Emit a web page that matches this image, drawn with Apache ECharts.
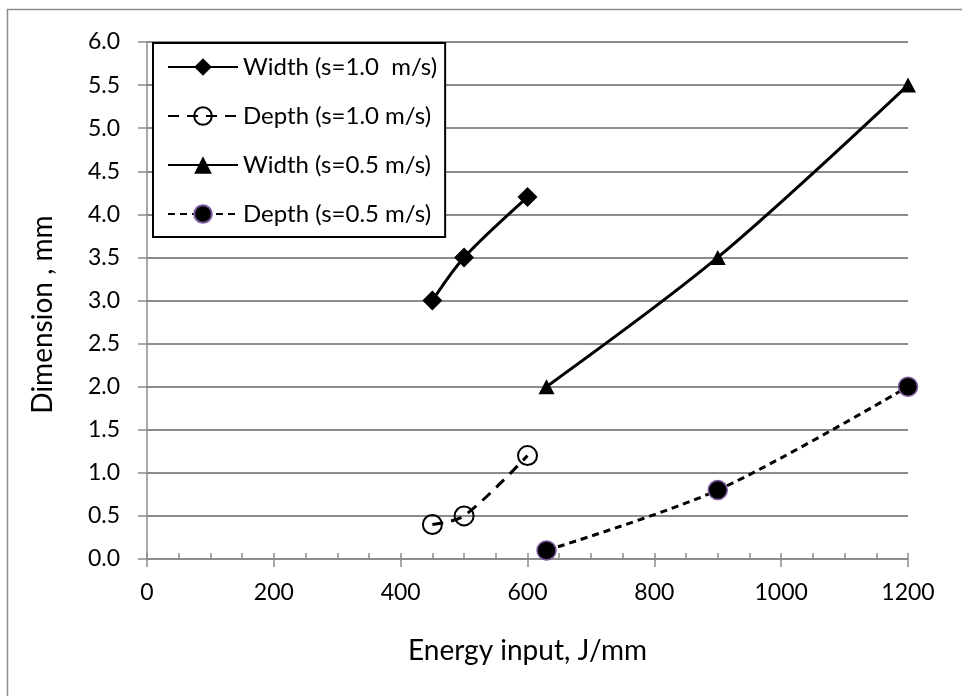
<!DOCTYPE html>
<html>
<head>
<meta charset="utf-8">
<script src="https://cdn.jsdelivr.net/npm/echarts@6/dist/echarts.min.js"></script>
<style>html,body{margin:0;padding:0;background:#fff}#c{width:962px;height:696px}</style>
</head>
<body>
<div id="c"></div>
<script>
const seriesNames = ['Width (s=1.0  m/s)', 'Depth (s=1.0 m/s)', 'Width (s=0.5 m/s)', 'Depth (s=0.5 m/s)'];
const energy10 = [450, 500, 600];
const width10 = [3.0, 3.5, 4.2];
const depth10 = [0.4, 0.5, 1.2];
const energy05 = [630, 900, 1200];
const width05 = [2.0, 3.5, 5.5];
const depth05 = [0.1, 0.8, 2.0];
const xTicks = [0, 200, 400, 600, 800, 1000, 1200];
const yTicks = [0, 0.5, 1, 1.5, 2, 2.5, 3, 3.5, 4, 4.5, 5, 5.5, 6];

const pairs = (xs, ys) => xs.map((x, i) => [x, ys[i]]);
const FONT = 'Lato';
const GRAY = '#8c8c8c';

const chart = echarts.init(document.getElementById('c'), null, {renderer: 'canvas'});
chart.setOption({
  animation: false,
  backgroundColor: '#fff',
  textStyle: {fontFamily: FONT},
  graphic: [{
    type: 'rect', left: 5, top: 7, silent: true, z: -10,
    shape: {x: 0, y: 0, width: 980, height: 720},
    style: {fill: 'none', stroke: GRAY, lineWidth: 1.5}
  }],
  grid: {left: 147, right: 54, top: 42, bottom: 137, containLabel: false},
  legend: {
    orient: 'vertical', left: 153, top: 43,
    backgroundColor: '#fff', borderColor: '#000', borderWidth: 2,
    padding: [12, 8, 11, 14],
    itemWidth: 70, itemHeight: 22, itemGap: 25,
    textStyle: {fontFamily: FONT, fontSize: 24, lineHeight: 24, color: '#000'},
    data: seriesNames
  },
  xAxis: [{
    type: 'value', min: xTicks[0], max: xTicks[xTicks.length - 1], interval: 200,
    name: 'Energy input, J/mm', nameLocation: 'middle', nameGap: 78,
    nameTextStyle: {fontFamily: FONT, fontSize: 28, color: '#000'},
    axisLine: {show: true, onZero: false, lineStyle: {color: GRAY, width: 1.5}},
    axisTick: {show: true, inside: false, length: 8, lineStyle: {color: GRAY, width: 1.5}},
    axisLabel: {fontFamily: FONT, fontSize: 23, color: '#000', margin: 22,
      formatter: v => String(v)},
    splitLine: {show: false}
  }, {
    type: 'value', min: 0, max: 1200, interval: 50, position: 'bottom',
    axisLine: {show: false},
    axisTick: {show: true, inside: true, length: 6, lineStyle: {color: GRAY, width: 1.5}},
    axisLabel: {show: false}, splitLine: {show: false}
  }],
  yAxis: [{
    type: 'value', min: yTicks[0], max: yTicks[yTicks.length - 1], interval: 0.5,
    name: 'Dimension , mm', nameLocation: 'middle', nameGap: 90,
    nameTextStyle: {fontFamily: FONT, fontSize: 28, color: '#000', padding: [0, 28, 0, 0]},
    axisLine: {show: true, onZero: false, lineStyle: {color: GRAY, width: 1.5}},
    axisTick: {show: true, inside: false, length: 9, lineStyle: {color: GRAY, width: 1.5}},
    axisLabel: {fontFamily: FONT, fontSize: 23, color: '#000', margin: 27,
      formatter: v => v.toFixed(1)},
    splitLine: {show: true, lineStyle: {color: GRAY, width: 2}}
  }, {
    type: 'value', min: 0, max: 6, interval: 0.5, position: 'left', offset: 0,
    axisLine: {show: false},
    axisTick: {show: true, inside: true, length: 6, lineStyle: {color: GRAY, width: 1.5}},
    axisLabel: {show: false}, splitLine: {show: false}
  }],
  series: [{
    name: seriesNames[0], type: 'line', smooth: 0.3,
    data: pairs(energy10, width10),
    symbol: 'diamond', symbolSize: [20, 20],
    lineStyle: {color: '#000', width: 3, type: 'solid'},
    itemStyle: {color: '#000'}
  }, {
    name: seriesNames[1], type: 'line', smooth: 0.3,
    data: pairs(energy10, depth10),
    symbol: 'circle', symbolSize: 19,
    lineStyle: {color: '#000', width: 3, type: [11, 8]},
    itemStyle: {color: 'rgba(255,255,255,0)', borderColor: '#000', borderWidth: 2}
  }, {
    name: seriesNames[2], type: 'line', smooth: 0.3,
    data: pairs(energy05, width05),
    symbol: 'triangle', symbolSize: [16, 15],
    lineStyle: {color: '#000', width: 3, type: 'solid'},
    itemStyle: {color: '#000'}
  }, {
    name: seriesNames[3], type: 'line', smooth: 0.3,
    data: pairs(energy05, depth05),
    symbol: 'circle', symbolSize: 19,
    lineStyle: {color: '#000', width: 3, type: [7, 5]},
    itemStyle: {color: '#000', borderColor: '#7a5a9e', borderWidth: 1.5}
  }]
});
</script>
</body>
</html>
